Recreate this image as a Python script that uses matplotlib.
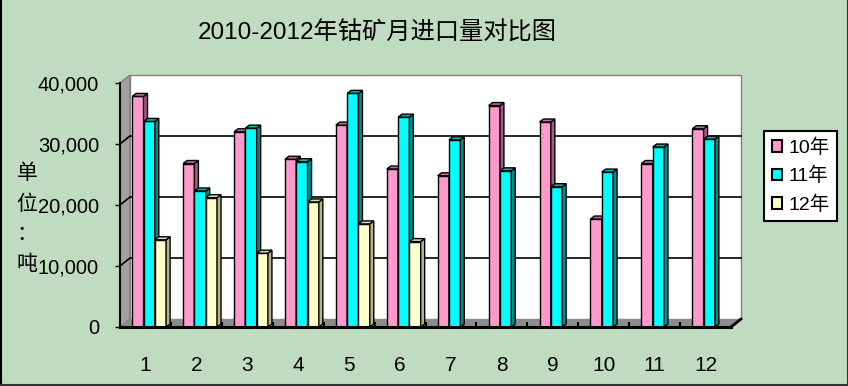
import matplotlib
matplotlib.use('Agg')
import matplotlib.pyplot as plt
from matplotlib.patches import Polygon, Patch, Rectangle
from matplotlib.lines import Line2D

# data (tonnes)
months = [str(i) for i in range(1, 13)]
v10 = [37800, 26800, 32000, 27500, 33100, 25900, 24800, 36300, 33600, 17700, 26800, 32500]
v11 = [33700, 22300, 32600, 27100, 38300, 34400, 30700, 25600, 23000, 25400, 29500, 30800]
v12 = [14300, 21200, 12100, 20500, 16900, 14000]
names = ['10年', '11年', '12年']
yticks = [0, 10000, 20000, 30000, 40000]

title = '2010-2012年钴矿月进口量对比图'
unit_chars = ['单', '位', '：', '吨']

# front / side / top colours per series
faces = [('#FF99CC', '#A35A84', '#B8709A'),
         ('#00FFFF', '#008C8C', '#00B3B3'),
         ('#FFFFCC', '#B3B38C', '#DADAB0')]

plt.rcParams['font.family'] = ['Liberation Sans', 'Noto Sans CJK SC']

W, H = 848, 386
fig = plt.figure(figsize=(W / 100, H / 100), dpi=100, facecolor='#C0DCC0')
ax = fig.add_axes([120 / W, (H - 327) / H, 611 / W, 244 / H])
ax.set_xlim(0.5, 12.5)
ax.set_ylim(0, 40000)
ax.patch.set_visible(False)

# depth of walls and bars, in data units
wx = 10 / 611 * 12
wy = 8 / 244 * 40000
bx = 4 / 611 * 12
by = 3 / 244 * 40000

# back wall, side wall, floor
ax.add_patch(Rectangle((0.5 + wx, wy), 12, 40000, fc='white', ec='#808080', lw=1,
                       clip_on=False, zorder=0))
ax.add_patch(Polygon([(0.5, 0), (0.5 + wx, wy), (0.5 + wx, 40000 + wy), (0.5, 40000)],
                     closed=True, fc='#A0A0A0', ec='#808080', lw=1, clip_on=False, zorder=0.5))
ax.add_patch(Polygon([(0.5, 0), (12.5, 0), (12.5 + wx, wy), (0.5 + wx, wy)],
                     closed=True, fc='#8C8C8C', ec='none', clip_on=False, zorder=0.5))
for v in yticks[1:-1]:
    ax.plot([0.5, 0.5 + wx, 12.5 + wx], [v, v + wy, v + wy], color='black', lw=1.2,
            clip_on=False, zorder=0.8)
ax.plot([12.5, 12.5 + wx], [0, wy], color='black', lw=2, clip_on=False, zorder=1)
ax.vlines([i + 0.5 for i in range(1, 12)], 0, 800, color='black', lw=1.5, zorder=1)

# bars with fake 3d faces
off = 12.2 / 611 * 12
bw = 11.3 / 611 * 12
for k, vals in enumerate([v10, v11, v12]):
    front, side, top = faces[k]
    xs = [i + 0.5 + off + bw * k for i in range(len(vals))]
    bars = ax.bar(xs, vals, width=bw, align='edge', color=front, edgecolor='black',
                  lw=1, zorder=2 + k)
    for b in bars:
        x0 = b.get_x()
        x1 = x0 + b.get_width()
        h = b.get_height()
        ax.add_patch(Polygon([(x1, 0), (x1 + bx, by), (x1 + bx, h + by), (x1, h)],
                             closed=True, fc=side, ec='black', lw=1, zorder=2 + k))
        ax.add_patch(Polygon([(x0, h), (x0 + bx, h + by), (x1 + bx, h + by), (x1, h)],
                             closed=True, fc=top, ec='black', lw=1, zorder=2 + k))

# axes
for s in ['top', 'right']:
    ax.spines[s].set_visible(False)
ax.spines['left'].set_linewidth(1.5)
ax.spines['bottom'].set_linewidth(2.2)
ax.spines['bottom'].set_zorder(10)
ax.spines['left'].set_zorder(10)
ax.set_yticks(yticks)
ax.set_yticklabels([f'{v:,}' for v in yticks])
ax.tick_params(axis='y', direction='out', length=3.6, width=1, pad=11.5, labelsize=14.5)
ax.set_xticks(range(1, 13))
ax.set_xticklabels(months)
ax.tick_params(axis='x', length=0, pad=21, labelsize=15)

fig.text(377 / W, 1 - 33 / H, title, ha='center', va='center', fontsize=17.5)
for i, ch in enumerate(unit_chars):
    fig.text(27 / W, 1 - (173 + 30.5 * i) / H, ch, ha='center', va='center', fontsize=15,
             family=['Noto Sans CJK SC'])

handles = [Patch(fc=faces[k][0], ec='black', lw=1.5) for k in range(3)]
leg = ax.legend(handles, names, loc='upper left', bbox_to_anchor=(764 / W, 1 - 131 / H),
                bbox_transform=fig.transFigure, fontsize=14, fancybox=False, framealpha=1,
                edgecolor='black', handlelength=0.55, handleheight=0.55, handletextpad=0.3,
                labelspacing=0.5, borderpad=0.4, borderaxespad=0)
leg.get_frame().set_linewidth(1.5)

# figure border (left, right, bottom)
fig.add_artist(Line2D([0.5 / W, 0.5 / W], [0, 1], color='black', lw=1.5, transform=fig.transFigure))
fig.add_artist(Line2D([1 - 0.5 / W, 1 - 0.5 / W], [0, 1], color='#333333', lw=1.5, transform=fig.transFigure))
fig.add_artist(Line2D([0, 1], [1.5 / H, 1.5 / H], color='#333333', lw=1.5, transform=fig.transFigure))

fig.savefig('out.png', dpi=100, facecolor=fig.get_facecolor())
